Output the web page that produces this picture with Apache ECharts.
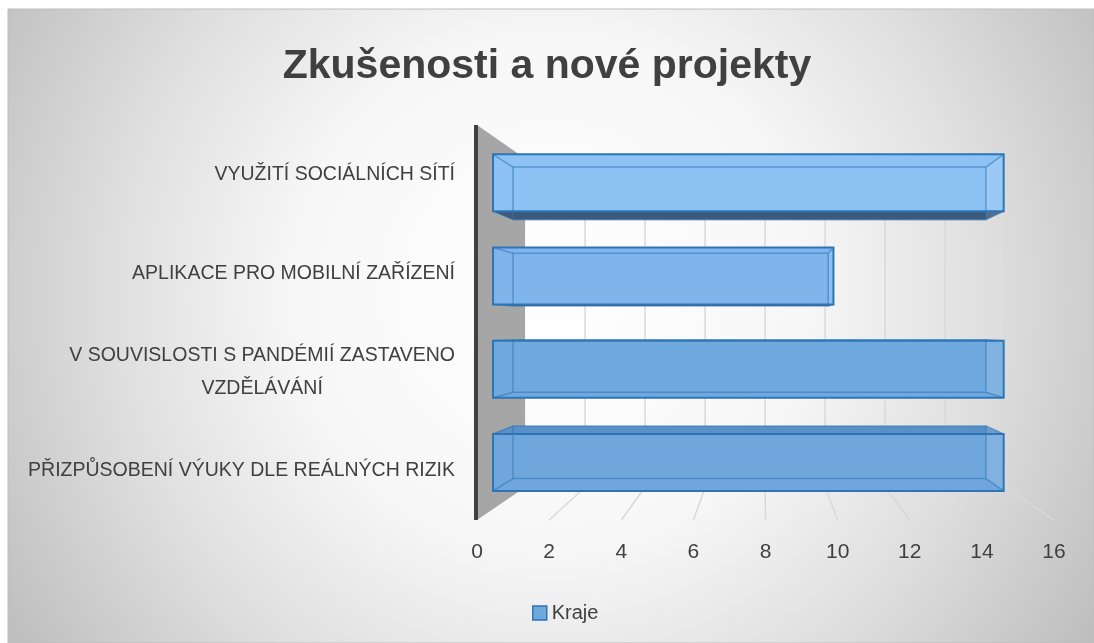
<!DOCTYPE html>
<html>
<head>
<meta charset="utf-8">
<script src="https://cdn.jsdelivr.net/npm/echarts@6/dist/echarts.min.js"></script>
<style>
  html, body { margin: 0; padding: 0; background: #fff; }
  #main { width: 1094px; height: 643px; }
</style>
</head>
<body>
<div id="main"></div>
<script>
// data
const categories = [
  "VYUŽITÍ SOCIÁLNÍCH SÍTÍ",
  "APLIKACE PRO MOBILNÍ ZAŘÍZENÍ",
  "V SOUVISLOSTI S PANDÉMIÍ ZASTAVENO VZDĚLÁVÁNÍ",
  "PŘIZPŮSOBENÍ VÝUKY DLE REÁLNÝCH RIZIK"
];
const krajeValues = [15, 10, 15, 15];
const xTicks = [0, 2, 4, 6, 8, 10, 12, 14, 16];

// fake 3d: depth factors towards a vanishing point
const K_WALL = 0.832, K_FRONT = 0.944, K_BACK = 0.874;
const faceColors = ["#8dc2f4", "#80b5ec", "#70a9de", "#6fa7dc"];

function vanish(cs) {
  return [cs.x + cs.width * 0.496, cs.y + cs.height * 0.506];
}
function proj(p, k, v) {
  return [v[0] + (p[0] - v[0]) * k, v[1] + (p[1] - v[1]) * k];
}

function renderScene(params, api) {
  const cs = params.coordSys;
  const V = vanish(cs);
  const t = api.value(0);
  const x = api.coord([t, 0])[0];
  const top = cs.y, bot = cs.y + cs.height;
  const kids = [];
  const grid = { stroke: "#d9d9d9", lineWidth: 1.5 };
  if (t === 0) {
    kids.push({
      type: "polygon",
      shape: { points: [[x, top], proj([x, top], K_WALL, V), proj([x, bot], K_WALL, V), [x, bot]] },
      style: { fill: "#a6a6a6" }
    });
    kids.push({
      type: "line",
      shape: { x1: x - 1, y1: top, x2: x - 1, y2: bot },
      style: { stroke: "#404040", lineWidth: 4 }
    });
  } else {
    const a = proj([x, top], K_WALL, V), b = proj([x, bot], K_WALL, V);
    kids.push({ type: "line", shape: { x1: a[0], y1: a[1], x2: b[0], y2: b[1] }, style: grid });
    kids.push({ type: "line", shape: { x1: x, y1: bot, x2: b[0], y2: b[1] }, style: grid });
  }
  return { type: "group", children: kids };
}

function renderBar(params, api) {
  const cs = params.coordSys;
  const V = vanish(cs);
  const val = api.value(0), cat = api.value(1);
  const p0 = api.coord([0, cat]), p1 = api.coord([val, cat]);
  const h = api.size([0, 1])[1] * 0.61;
  const rect = [[p0[0], p0[1] - h / 2], [p1[0], p1[1] - h / 2], [p1[0], p1[1] + h / 2], [p0[0], p0[1] + h / 2]];
  const F = rect.map(p => proj(p, K_FRONT, V));
  const B = rect.map(p => proj(p, K_BACK, V));
  const edge = { stroke: "rgba(46,117,182,0.55)", lineWidth: 1.5, fill: null };
  const kids = [];
  kids.push({ type: "polygon", shape: { points: F }, style: { fill: faceColors[params.dataIndex] } });
  if (B[0][1] > F[0][1]) {
    kids.push({ type: "polygon", shape: { points: [F[3], F[2], B[2], B[3]] }, style: { fill: "#3c5a7c" } });
  } else {
    kids.push({ type: "polygon", shape: { points: [F[0], F[1], B[1], B[0]] }, style: { fill: "#5a8fc7" } });
  }
  kids.push({ type: "polygon", shape: { points: [F[1], F[2], B[2], B[1]] }, style: { fill: "rgba(255,255,255,0.12)" } });
  kids.push({ type: "polygon", shape: { points: B }, style: edge });
  for (let i = 0; i < 4; i++) {
    kids.push({ type: "line", shape: { x1: F[i][0], y1: F[i][1], x2: B[i][0], y2: B[i][1] }, style: edge });
  }
  kids.push({ type: "polygon", shape: { points: F }, style: { fill: null, stroke: "#2e75b6", lineWidth: 2 } });
  return { type: "group", children: kids };
}

const myChart = echarts.init(document.getElementById("main"));
myChart.setOption({
  animation: false,
  graphic: [{
    type: "rect",
    z: -10,
    silent: true,
    shape: { x: 8, y: 9, width: 1086, height: 634 },
    style: {
      stroke: "#bdbdbd",
      lineWidth: 1,
      fill: {
        type: "radial", x: 0.5, y: 0.45, r: 1.0,
        colorStops: [
          { offset: 0, color: "#ffffff" },
          { offset: 0.4, color: "#f7f7f7" },
          { offset: 0.7, color: "#dedede" },
          { offset: 1, color: "#bfbfbf" }
        ]
      }
    }
  }],
  title: {
    text: "Zkušenosti a nové projekty",
    left: "center",
    top: 41,
    textStyle: { fontFamily: "Liberation Sans", fontWeight: "bold", fontSize: 41, color: "#404040" }
  },
  legend: {
    data: ["Kraje"],
    left: 527,
    top: 598,
    icon: "rect",
    itemWidth: 14,
    itemHeight: 14,
    itemGap: 6,
    itemStyle: { color: "#6fa8dc", borderColor: "#2e75b6", borderWidth: 1.5 },
    textStyle: { fontFamily: "Liberation Sans", fontSize: 20, color: "#404040" }
  },
  grid: { left: 477, right: 40, top: 125, bottom: 123, containLabel: false },
  xAxis: {
    type: "value",
    min: 0,
    max: 16,
    interval: 2,
    axisLine: { show: false },
    axisTick: { show: false },
    splitLine: { show: false },
    axisLabel: { margin: 22, fontFamily: "Liberation Sans", fontSize: 21, color: "#404040" }
  },
  yAxis: {
    type: "category",
    inverse: true,
    data: categories,
    axisLine: { show: false },
    axisTick: { show: false },
    splitLine: { show: false },
    axisLabel: {
      margin: 22,
      fontFamily: "Liberation Sans",
      fontSize: 19.5,
      color: "#404040",
      formatter: function (v) {
        if (v.length > 40) {
          const idx = v.lastIndexOf(" ", 36);
          return "{c|" + v.slice(0, idx) + "}\n{c|" + v.slice(idx + 1) + "}";
        }
        return v;
      },
      rich: {
        c: { align: "center", fontFamily: "Liberation Sans", fontSize: 19.5, color: "#404040", lineHeight: 33 }
      }
    }
  },
  series: [
    {
      type: "custom",
      name: "scene",
      z: 1,
      silent: true,
      clip: false,
      renderItem: renderScene,
      encode: { x: 0, y: 1 },
      data: xTicks.map(t => [t, 0])
    },
    {
      type: "custom",
      name: "Kraje",
      z: 2,
      clip: false,
      itemStyle: { color: "#6fa8dc", borderColor: "#2e75b6" },
      renderItem: renderBar,
      encode: { x: 0, y: 1 },
      data: krajeValues.map((v, i) => [v, i])
    }
  ]
});
</script>
</body>
</html>
